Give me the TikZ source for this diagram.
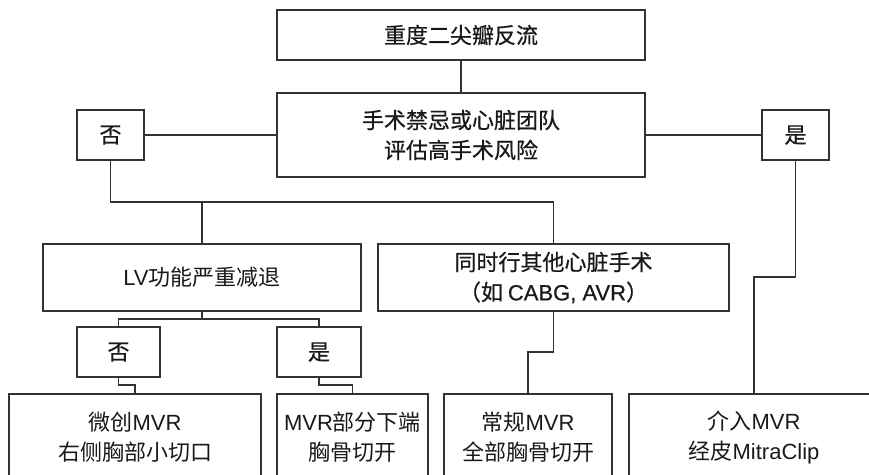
\documentclass[tikz,border=0pt]{standalone}
\usepackage{fontspec}
\setmainfont{Noto Sans CJK SC}
\newfontfamily\latf{Liberation Sans}
\newfontfamily\heavyf[FakeBold=0.6]{Noto Sans CJK SC}
\newfontfamily\heavylatf[FakeBold=0.6]{Liberation Sans}
\begin{document}
\begin{tikzpicture}[x=1pt,y=-1pt,
  box/.style={draw=black!80,line width=1.1pt,inner sep=0pt,align=center,
    font=\fontsize{22}{30}\selectfont,text=black!90},
  heavy/.style={font=\fontsize{22}{30}\heavyf},
  wire/.style={draw=black!80,line width=1.1pt}]
\clip (0,0) rectangle (869,474);
\fill[white] (0,0) rectangle (869,474);
\node[box,heavy,minimum width=368,minimum height=50] (top) at (461,35) {重度二尖瓣反流};
\node[box,heavy,minimum width=368,minimum height=84] (risk) at (461,135) {手术禁忌或心脏团队\\评估高手术风险};
\node[box,heavy,minimum width=67,minimum height=50] (no1) at (110.5,135) {否};
\node[box,heavy,minimum width=67,minimum height=50] (yes1) at (795.5,135) {是};
\node[box,minimum width=318,minimum height=67] (lv) at (202,277.5) {{\latf LV}功能严重减退};
\node[box,heavy,minimum width=351,minimum height=67] (cabg) at (553.5,277.5) {同时行其他心脏手术\\（如 {\heavylatf CABG, AVR}）};
\node[box,heavy,minimum width=83,minimum height=50] (no2) at (118.5,352) {否};
\node[box,heavy,minimum width=84,minimum height=50] (yes2) at (319,352) {是};
\node[box,minimum width=252,minimum height=87] (b1) at (135,437.5) {微创{\latf MVR}\\右侧胸部小切口};
\node[box,minimum width=151,minimum height=87] (b2) at (352.5,437.5) {{\latf MVR}部分下端\\胸骨切开};
\node[box,minimum width=168,minimum height=87] (b3) at (528,437.5) {常规{\latf MVR}\\全部胸骨切开};
\node[box,minimum width=250,minimum height=87] (b4) at (754,437.5) {介入{\latf MVR}\\经皮{\latf MitraClip}};
\draw[wire] (top.south) -- (risk.north);
\draw[wire] (no1.east) -- (risk.west);
\draw[wire] (risk.east) -- (yes1.west);
\draw[wire] (no1.south) -- (no1.south |- 0,202) -- (cabg.north |- 0,202) -- (cabg.north);
\draw[wire] (lv.north) -- (lv.north |- 0,202);
\draw[wire] (lv.south) -- (lv.south |- 0,319) -| (no2.north);
\draw[wire] (lv.south |- 0,319) -| (yes2.north);
\draw[wire] (no2.south) -- (no2.south |- 0,385) -| (b1.north);
\draw[wire] (yes2.south) -- (yes2.south |- 0,385) -| (b2.north);
\draw[wire] (cabg.south) -- (cabg.south |- 0,352) -| (b3.north);
\draw[wire] (yes1.south) -- (yes1.south |- 0,277) -| (b4.north);
\end{tikzpicture}
\end{document}
